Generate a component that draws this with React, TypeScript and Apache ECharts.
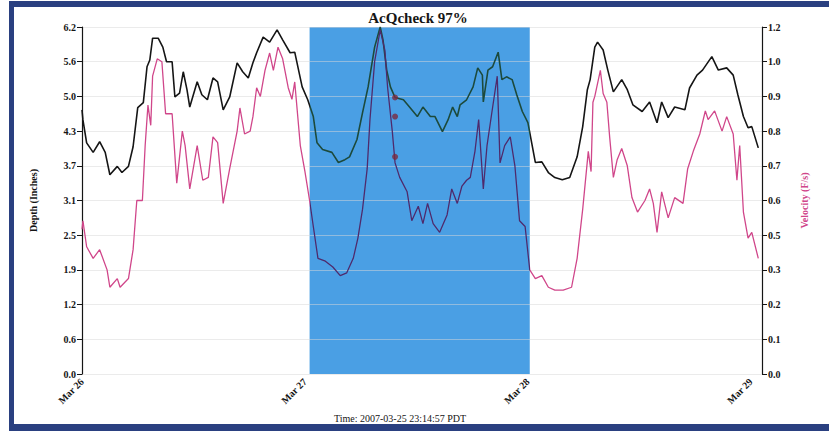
import React, { useEffect, useRef } from 'react';
import * as echarts from 'echarts';

// Hours since Mar 26 00:00
const dayLabels = ['Mar 26', 'Mar 27', 'Mar 28', 'Mar 29'];
const depthTickLabels = ['0.0', '0.6', '1.2', '1.9', '2.5', '3.1', '3.7', '4.3', '5.0', '5.6', '6.2'];
const velocityTickLabels = ['0.0', '0.1', '0.2', '0.3', '0.5', '0.6', '0.7', '0.8', '0.9', '1.0', '1.2'];
const shadedHours = [24.5, 48.2];
const titleText = 'AcQcheck 97%';
const timeText = 'Time: 2007-03-25 23:14:57 PDT';

// [hour, depth (inches)]
const depth: number[][] = [
  [0, 4.72], [0.1, 4.54], [0.5, 4.13], [1.2, 3.96], [1.9, 4.15], [2.5, 3.96], [3.0, 3.56], [3.8, 3.71],
  [4.3, 3.6], [5.0, 3.71], [5.5, 4.06], [6.0, 4.76], [6.6, 4.85], [7.0, 5.49], [7.3, 5.61], [7.6, 6.0],
  [8.2, 6.0], [8.7, 5.84], [9.1, 5.58], [9.7, 5.58], [10.0, 4.95], [10.5, 5.02], [10.9, 5.4], [11.3, 5.08],
  [11.6, 4.77], [12.4, 5.22], [12.9, 4.99], [13.5, 4.9], [14.1, 5.29], [14.6, 5.22], [15.2, 4.72], [15.9, 4.95],
  [16.7, 5.56], [17.3, 5.4], [17.9, 5.29], [18.4, 5.56], [18.8, 5.74], [19.5, 6.02], [20.2, 5.93], [21.0, 6.15],
  [21.6, 5.97], [22.4, 5.74], [22.9, 5.75], [23.7, 5.13], [24.3, 4.9], [24.9, 4.6], [25.3, 4.13], [25.9, 4.01],
  [26.9, 3.96], [27.6, 3.78], [28.3, 3.83], [28.8, 3.88], [29.6, 4.19], [30.2, 4.67], [30.8, 5.13], [31.5, 5.84],
  [32.1, 6.2], [32.4, 5.97], [32.8, 5.43], [33.2, 5.13], [33.7, 4.94], [34.6, 4.9], [35.3, 4.76], [36.1, 4.6],
  [36.7, 4.77], [37.5, 4.6], [38.0, 4.6], [38.8, 4.33], [39.4, 4.54], [39.9, 4.77], [40.4, 4.6], [40.7, 4.81],
  [41.4, 4.9], [42.1, 5.13], [42.6, 5.47], [43.1, 5.34], [43.2, 4.86], [43.7, 5.43], [44.2, 5.49], [44.8, 5.75],
  [45.2, 5.26], [45.7, 5.31], [46.3, 5.26], [46.8, 4.99], [47.4, 4.69], [48.0, 4.49], [48.8, 3.78], [49.5, 3.79],
  [50.2, 3.6], [50.9, 3.51], [51.7, 3.47], [52.5, 3.51], [53.3, 3.88], [53.9, 4.42], [54.4, 5.08], [54.7, 5.26],
  [55.2, 5.84], [55.5, 5.93], [56.1, 5.79], [56.6, 5.43], [57.2, 5.04], [58.1, 5.26], [58.7, 5.08], [59.3, 4.81],
  [60.3, 4.69], [61.1, 4.86], [61.9, 4.49], [62.4, 4.86], [63.1, 4.58], [63.8, 4.77], [64.9, 4.72], [65.4, 5.11],
  [66.2, 5.34], [66.8, 5.43], [67.8, 5.67], [68.5, 5.43], [69.4, 5.47], [70.1, 5.34], [70.6, 4.99], [71.2, 4.6],
  [71.7, 4.4], [72.1, 4.42], [72.8, 4.04],
];

// [hour, velocity (ft/s)]
const velocity: number[][] = [
  [0, 0.5], [0.1, 0.53], [0.5, 0.44], [1.2, 0.4], [1.9, 0.43], [2.7, 0.36], [3.0, 0.3], [3.8, 0.33],
  [4.1, 0.3], [5.0, 0.33], [5.5, 0.43], [5.9, 0.6], [6.5, 0.6], [6.8, 0.79], [7.1, 0.93], [7.4, 0.86],
  [7.6, 1.03], [8.1, 1.09], [8.6, 1.08], [9.0, 0.9], [9.7, 0.9], [10.2, 0.66], [10.8, 0.84], [11.1, 0.79],
  [11.6, 0.64], [12.4, 0.79], [13.0, 0.67], [13.6, 0.68], [14.1, 0.82], [14.6, 0.8], [15.2, 0.59], [15.9, 0.71],
  [16.7, 0.84], [17.0, 0.92], [17.5, 0.83], [18.1, 0.84], [18.4, 0.89], [18.8, 0.99], [19.2, 0.96], [19.7, 1.05],
  [20.2, 1.11], [20.6, 1.05], [21.1, 1.13], [21.6, 1.09], [22.2, 0.99], [22.6, 0.95], [22.9, 1.01], [23.5, 0.79],
  [24.0, 0.7], [24.5, 0.6], [24.9, 0.51], [25.4, 0.4], [26.2, 0.39], [27.0, 0.37], [27.8, 0.34], [28.5, 0.35],
  [29.2, 0.4], [29.7, 0.47], [30.2, 0.57], [30.7, 0.71], [31.0, 0.88], [31.5, 1.08], [32.1, 1.19], [32.6, 1.12],
  [32.9, 0.99], [33.4, 0.84], [33.7, 0.73], [34.2, 0.68], [35.0, 0.63], [35.5, 0.53], [36.2, 0.58], [36.7, 0.52],
  [37.2, 0.59], [37.8, 0.52], [38.5, 0.49], [39.3, 0.55], [39.8, 0.64], [40.4, 0.59], [40.9, 0.65], [41.4, 0.67],
  [41.8, 0.68], [42.3, 0.77], [42.7, 0.88], [43.2, 0.64], [43.6, 0.79], [44.1, 0.9], [44.7, 1.03], [45.0, 0.73],
  [45.5, 0.79], [46.1, 0.82], [46.6, 0.72], [47.1, 0.53], [47.7, 0.51], [48.2, 0.36], [48.8, 0.33], [49.5, 0.34],
  [50.2, 0.3], [50.9, 0.29], [51.8, 0.29], [52.7, 0.3], [53.3, 0.4], [53.9, 0.57], [54.5, 0.77], [54.8, 0.7],
  [55.0, 0.94], [55.2, 0.96], [55.8, 1.05], [56.1, 0.97], [56.5, 0.94], [56.8, 0.82], [57.2, 0.68], [57.6, 0.74],
  [58.1, 0.78], [58.7, 0.72], [59.2, 0.61], [59.8, 0.56], [60.6, 0.6], [61.1, 0.64], [61.5, 0.59], [61.9, 0.49],
  [62.4, 0.63], [63.1, 0.54], [63.8, 0.61], [64.7, 0.59], [65.2, 0.71], [65.8, 0.77], [66.5, 0.83], [67.1, 0.91],
  [67.4, 0.88], [68.1, 0.91], [68.9, 0.84], [69.4, 0.89], [70.1, 0.83], [70.5, 0.67], [70.8, 0.79], [71.2, 0.56],
  [71.7, 0.47], [72.1, 0.49], [72.8, 0.4],
];

// markers on the depth scale
const checkPoints: number[][] = [[33.7, 4.94], [33.7, 4.6], [33.7, 3.88]];

const FONT = '"Liberation Serif", "Times New Roman", serif';
const INK = '#151515';
const PINK = '#d0468a';
const FRAME = '#2a4080';

export default function App() {
  const ref = useRef<HTMLDivElement>(null);
  useEffect(() => {
    if (!ref.current) return;
    const chart = echarts.init(ref.current, undefined, { renderer: 'svg' });
    const labelStyle = { fontFamily: FONT, fontWeight: 'bold' as const, fontSize: 10, color: INK };
    chart.setOption({
      animation: false,
      backgroundColor: '#ffffff',
      grid: { left: 82, right: 67, top: 27, bottom: 57, containLabel: false },
      xAxis: {
        type: 'value',
        min: 0,
        max: 73.2,
        interval: 24,
        axisLine: { show: false },
        axisTick: { show: false },
        splitLine: { show: false },
        axisLabel: {
          ...labelStyle,
          rotate: 45,
          margin: 6,
          showMaxLabel: false,
          formatter: (v: number) => (Math.abs(v % 24) < 1e-6 ? dayLabels[Math.round(v / 24)] ?? '' : ''),
        },
      },
      yAxis: [
        {
          type: 'value',
          position: 'left',
          min: 0,
          max: 6.2,
          interval: 0.62,
          z: 2,
          name: 'Depth (Inches)',
          nameLocation: 'middle',
          nameRotate: 90,
          nameGap: 44,
          nameTextStyle: { ...labelStyle },
          axisLine: { show: true, lineStyle: { color: INK, width: 1.2 } },
          axisTick: { show: true, length: 5, lineStyle: { color: INK } },
          axisLabel: {
            ...labelStyle,
            margin: 6,
            formatter: (v: number) => depthTickLabels[Math.round(v / 0.62)] ?? '',
          },
          splitLine: { show: true, lineStyle: { color: 'rgba(215,215,215,0.5)', width: 1.2 } },
        },
        {
          type: 'value',
          position: 'right',
          min: 0,
          max: 1.2,
          interval: 0.12,
          z: 2,
          name: 'Velocity (F/s)',
          nameLocation: 'middle',
          nameRotate: 90,
          nameGap: 37,
          nameTextStyle: { ...labelStyle, color: PINK },
          axisLine: { show: true, lineStyle: { color: INK, width: 1.2 } },
          axisTick: { show: true, length: 5, lineStyle: { color: INK } },
          axisLabel: {
            ...labelStyle,
            margin: 6,
            formatter: (v: number) => velocityTickLabels[Math.round(v / 0.12)] ?? '',
          },
          splitLine: { show: false },
        },
      ],
      visualMap: [
        {
          type: 'piecewise',
          show: false,
          seriesIndex: 0,
          dimension: 0,
          pieces: [
            { lt: shadedHours[0], color: INK },
            { gte: shadedHours[0], lte: shadedHours[1], color: '#1c4a3c' },
            { gt: shadedHours[1], color: INK },
          ],
        },
        {
          type: 'piecewise',
          show: false,
          seriesIndex: 1,
          dimension: 0,
          pieces: [
            { lt: shadedHours[0], color: PINK },
            { gte: shadedHours[0], lte: shadedHours[1], color: '#4e2a6c' },
            { gt: shadedHours[1], color: PINK },
          ],
        },
      ],
      series: [
        {
          name: 'Depth',
          type: 'line',
          yAxisIndex: 0,
          data: depth,
          symbol: 'none',
          z: 3,
          lineStyle: { width: 1.6 },
        },
        {
          name: 'Velocity',
          type: 'line',
          yAxisIndex: 1,
          data: velocity,
          symbol: 'none',
          z: 3,
          lineStyle: { width: 1.3 },
        },
        {
          name: 'Shade',
          type: 'line',
          yAxisIndex: 0,
          data: [[shadedHours[0], 0], [shadedHours[1], 0]],
          symbol: 'none',
          z: 1,
          lineStyle: { opacity: 0 },
          silent: true,
          markArea: {
            silent: true,
            z: 1,
            itemStyle: { color: '#4a9fe4', opacity: 1 },
            data: [[{ xAxis: shadedHours[0] }, { xAxis: shadedHours[1] }]],
          },
        },
        {
          name: 'Check',
          type: 'scatter',
          yAxisIndex: 0,
          data: checkPoints,
          symbol: 'circle',
          symbolSize: 6,
          z: 4,
          itemStyle: { color: '#7a2a40' },
        },
      ],
      graphic: [
        {
          type: 'text',
          x: 418,
          y: 10,
          z: 50,
          style: { text: titleText, font: `bold 15px ${FONT}`, fill: INK, align: 'center', verticalAlign: 'top' },
        },
        {
          type: 'text',
          x: 400,
          y: 413,
          z: 50,
          style: { text: timeText, font: `10px ${FONT}`, fill: INK, align: 'center', verticalAlign: 'top' },
        },
        { type: 'rect', z: 100, shape: { x: 9, y: 1, width: 5, height: 430 }, style: { fill: FRAME } },
        { type: 'rect', z: 100, shape: { x: 9, y: 1, width: 820, height: 6 }, style: { fill: FRAME } },
        { type: 'rect', z: 100, shape: { x: 9, y: 424, width: 820, height: 7 }, style: { fill: FRAME } },
      ],
    });
    return () => chart.dispose();
  }, []);
  return (
    <div
      ref={ref}
      style={{ position: 'absolute', left: 0, top: 0, width: 829, height: 431, background: '#fff' }}
    />
  );
}
